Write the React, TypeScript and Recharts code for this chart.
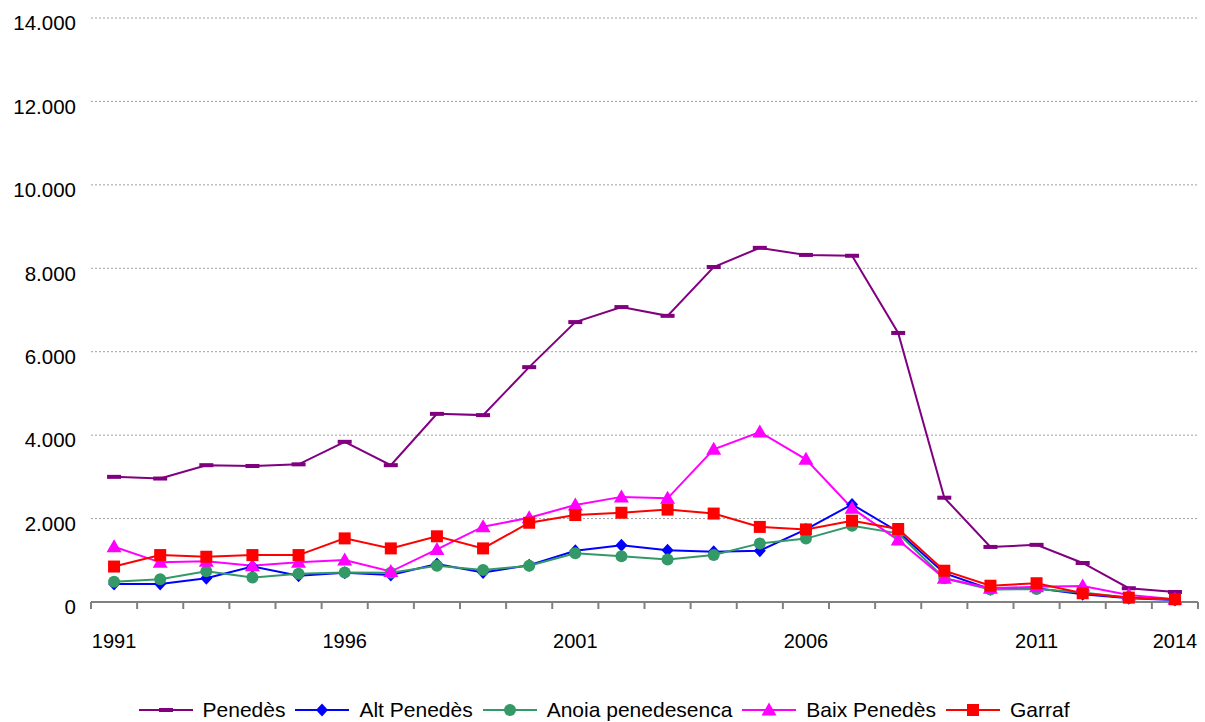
import React from 'react';
import {
  LineChart,
  Line,
  XAxis,
  YAxis,
  CartesianGrid,
  Legend,
} from 'recharts';

const years = [
  1991, 1992, 1993, 1994, 1995, 1996, 1997, 1998, 1999, 2000, 2001, 2002,
  2003, 2004, 2005, 2006, 2007, 2008, 2009, 2010, 2011, 2012, 2013, 2014,
];
const labelYears = [1991, 1996, 2001, 2006, 2011, 2014];
const yTicks = [0, 2000, 4000, 6000, 8000, 10000, 12000, 14000];

const penedes = [
  3000, 2960, 3280, 3260, 3300, 3840, 3280, 4510, 4480, 5630, 6710, 7070,
  6860, 8030, 8490, 8320, 8300, 6450, 2500, 1320, 1370, 935, 330, 240,
];
const altPenedes = [
  430, 430, 570, 850, 630, 700, 650, 910, 710, 880, 1230, 1360,
  1240, 1205, 1230, 1740, 2340, 1685, 690, 305, 330, 185, 90, 50,
];
const anoia = [
  487, 545, 735, 585, 680, 710, 700, 870, 765, 870, 1170, 1095,
  1020, 1125, 1405, 1520, 1830, 1645, 570, 300, 310, 225, 100, 60,
];
const baixPenedes = [
  1325, 950, 975, 870, 950, 1005, 730, 1260, 1805, 2020, 2325, 2520,
  2485, 3660, 4075, 3420, 2250, 1485, 570, 330, 365, 385, 170, 65,
];
const garraf = [
  850, 1125, 1085, 1125, 1125, 1525, 1285, 1575, 1285, 1900, 2085, 2140,
  2215, 2120, 1800, 1740, 1950, 1750, 750, 390, 450, 210, 105, 65,
];

const FONT = '"Liberation Sans", Arial, sans-serif';

const data = years.map((year, i) => ({
  pos: i + 0.5,
  year,
  penedes: penedes[i],
  altPenedes: altPenedes[i],
  anoia: anoia[i],
  baixPenedes: baixPenedes[i],
  garraf: garraf[i],
}));

type Shape = 'dash' | 'diamond' | 'circle' | 'triangle' | 'square';

const series: { key: string; name: string; color: string; shape: Shape }[] = [
  { key: 'penedes', name: 'Penedès', color: '#800080', shape: 'dash' },
  { key: 'altPenedes', name: 'Alt Penedès', color: '#0000ff', shape: 'diamond' },
  { key: 'anoia', name: 'Anoia penedesenca', color: '#339966', shape: 'circle' },
  { key: 'baixPenedes', name: 'Baix Penedès', color: '#ff00ff', shape: 'triangle' },
  { key: 'garraf', name: 'Garraf', color: '#ff0000', shape: 'square' },
];

function marker(shape: Shape, cx: number, cy: number, color: string, key?: string) {
  switch (shape) {
    case 'dash':
      return <rect key={key} x={cx - 7} y={cy - 2} width={14} height={4} fill={color} />;
    case 'diamond':
      return (
        <polygon
          key={key}
          points={`${cx},${cy - 6.5} ${cx + 6},${cy} ${cx},${cy + 6.5} ${cx - 6},${cy}`}
          fill={color}
        />
      );
    case 'circle':
      return <circle key={key} cx={cx} cy={cy} r={6} fill={color} />;
    case 'triangle':
      return (
        <polygon
          key={key}
          points={`${cx},${cy - 7.5} ${cx + 7.5},${cy + 5.5} ${cx - 7.5},${cy + 5.5}`}
          fill={color}
        />
      );
    default:
      return <rect key={key} x={cx - 6} y={cy - 6} width={12} height={12} fill={color} />;
  }
}

const fmt = (v: number) => String(v).replace(/\B(?=(\d{3})+(?!\d))/g, '.');

function YTick(props: any) {
  const { x, y, payload } = props;
  return (
    <text x={x} y={y + 5} dy="0.355em" textAnchor="end" fontSize={20.5} fontFamily={FONT} fill="#000">
      {fmt(payload.value)}
    </text>
  );
}

function renderLegend() {
  return (
    <div
      style={{
        display: 'flex',
        justifyContent: 'center',
        alignItems: 'center',
        height: 24,
        paddingLeft: 10,
        fontFamily: FONT,
        fontSize: 21,
        color: '#000',
      }}
    >
      {series.map((s, i) => (
        <div
          key={s.key}
          style={{ display: 'flex', alignItems: 'center', marginRight: i < series.length - 1 ? 10 : 0 }}
        >
          <svg width={54} height={20}>
            <line x1={0} y1={10} x2={54} y2={10} stroke={s.color} strokeWidth={2} />
            {marker(s.shape, 27, 10, s.color)}
          </svg>
          <span style={{ marginLeft: 10 }}>{s.name}</span>
        </div>
      ))}
    </div>
  );
}

export default function App() {
  const boundaryTicks = Array.from({ length: years.length + 1 }, (_, i) => i);
  const labelTicks = labelYears.map((y) => years.indexOf(y) + 0.5);

  return (
    <div style={{ position: 'absolute', left: 0, top: 0, background: '#fff' }}>
      <LineChart
        width={1205}
        height={722}
        data={data}
        margin={{ top: 18, right: 7, bottom: 0, left: 0 }}
      >
        <CartesianGrid vertical={false} stroke="#a0a0a0" strokeDasharray="2 2" />
        <XAxis
          xAxisId="axis1"
          type="number"
          dataKey="pos"
          domain={[0, years.length]}
          allowDataOverflow
          ticks={boundaryTicks}
          interval={0}
          tickFormatter={() => ''}
          height={20}
          tickSize={7}
          axisLine={{ stroke: '#808080', strokeWidth: 2 }}
          tickLine={{ stroke: '#808080', strokeWidth: 2 }}
        />
        <XAxis
          xAxisId="axis2"
          type="number"
          dataKey="pos"
          domain={[0, years.length]}
          allowDataOverflow
          ticks={labelTicks}
          interval={0}
          tickFormatter={(v: number) => String(years[Math.floor(v)])}
          height={76}
          tickSize={0}
          tickMargin={12}
          axisLine={false}
          tickLine={false}
          tick={{ fontSize: 20, fontFamily: FONT, fill: '#000' }}
        />
        <YAxis
          domain={[0, 14000]}
          ticks={yTicks}
          interval={0}
          width={91}
          axisLine={false}
          tickLine={false}
          tickSize={0}
          tickMargin={15}
          tick={<YTick />}
        />
        <Legend verticalAlign="bottom" content={renderLegend} />
        {series.map((s) => (
          <Line
            key={s.key}
            xAxisId="axis1"
            type="linear"
            dataKey={s.key}
            name={s.name}
            stroke={s.color}
            strokeWidth={2}
            isAnimationActive={false}
            dot={(p: any) => marker(s.shape, p.cx, p.cy, s.color, `${s.key}-${p.index}`)}
            activeDot={false}
          />
        ))}
      </LineChart>
    </div>
  );
}
